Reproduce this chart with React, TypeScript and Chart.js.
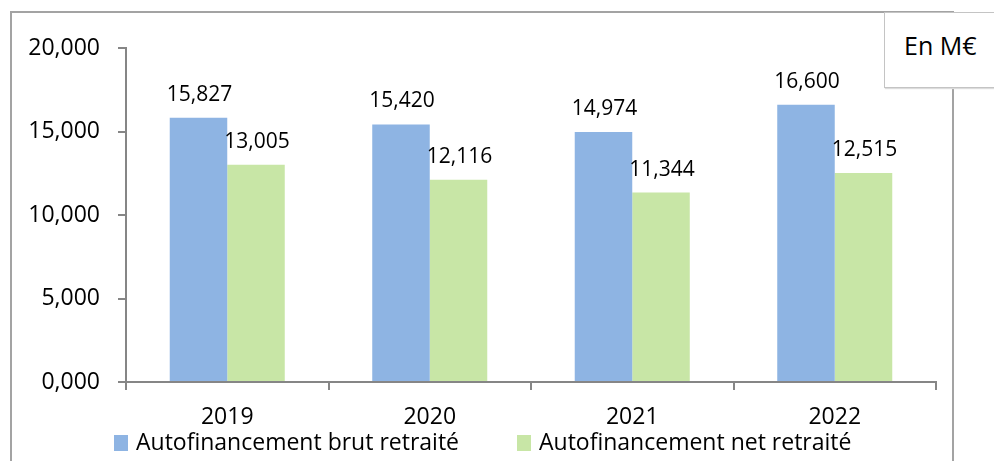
import React, { useEffect, useRef } from "react";
import { Chart, registerables } from "chart.js";

Chart.register(...registerables);

const categories: string[] = ["2019", "2020", "2021", "2022"];
const brutValues: number[] = [15.827, 15.42, 14.974, 16.6];
const netValues: number[] = [13.005, 12.116, 11.344, 12.515];
const seriesLabels: string[] = ["Autofinancement brut retraité", "Autofinancement net retraité"];
const yTicks: number[] = [0, 5, 10, 15, 20];
const unitLabel = "En M€";

const BLUE = "#8EB4E3";
const GREEN = "#C8E6A6";
const AXIS = "#868686";
const FONT = "'Open Sans', Lato, sans-serif";

const fmt = (v: number) => v.toFixed(3).replace(".", ",");

const valueLabelPlugin = {
  id: "valueLabels",
  afterDatasetsDraw(chart: any) {
    const ctx = chart.ctx;
    ctx.save();
    ctx.font = `21px ${FONT}`;
    ctx.fillStyle = "#000";
    ctx.textAlign = "center";
    ctx.textBaseline = "alphabetic";
    chart.data.datasets.forEach((ds: any, di: number) => {
      const meta = chart.getDatasetMeta(di);
      meta.data.forEach((el: any, i: number) => {
        ctx.fillText(fmt(ds.data[i]), el.x + 1, el.y - 17);
      });
    });
    ctx.restore();
  },
};

const legendPlugin = {
  id: "customLegend",
  afterDraw(chart: any) {
    const ctx = chart.ctx;
    ctx.save();
    ctx.font = `23px ${FONT}`;
    ctx.textBaseline = "middle";
    ctx.textAlign = "left";
    let x = 114;
    const yMid = 443;
    chart.data.datasets.forEach((ds: any) => {
      ctx.fillStyle = ds.backgroundColor;
      ctx.fillRect(x, yMid - 8, 14, 16);
      ctx.fillStyle = "#000";
      const tx = x + 22;
      ctx.fillText(ds.label, tx, yMid);
      x = tx + ctx.measureText(ds.label).width + 58;
    });
    ctx.restore();
  },
};

export default function App() {
  const ref = useRef<HTMLCanvasElement | null>(null);

  useEffect(() => {
    if (!ref.current) return;
    const chart = new Chart(ref.current, {
      type: "bar",
      data: {
        labels: categories,
        datasets: [
          { label: seriesLabels[0], data: brutValues, backgroundColor: BLUE, borderWidth: 0 },
          { label: seriesLabels[1], data: netValues, backgroundColor: GREEN, borderWidth: 0 },
        ],
      },
      options: {
        responsive: false,
        animation: false,
        devicePixelRatio: 1,
        layout: { padding: { top: 48, right: 58, left: 0, bottom: 0 } },
        datasets: { bar: { categoryPercentage: 0.568, barPercentage: 1 } },
        plugins: {
          legend: { display: false },
          tooltip: { enabled: false },
          title: { display: false },
        },
        scales: {
          x: {
            grid: { display: true, drawOnChartArea: false, drawTicks: true, tickLength: 8, color: AXIS, lineWidth: 2, offset: true },
            border: { display: true, color: AXIS, width: 2 },
            ticks: { color: "#000", font: { family: FONT, size: 23 }, padding: 14, maxRotation: 0 },
            afterFit: (s: any) => { s.height = 79; },
          },
          y: {
            min: 0,
            max: 20,
            afterBuildTicks: (s: any) => { s.ticks = yTicks.map((v) => ({ value: v })); },
            grid: { display: true, drawOnChartArea: false, drawTicks: true, tickLength: 8, color: AXIS, lineWidth: 2 },
            border: { display: true, color: AXIS, width: 2 },
            ticks: { color: "#000", font: { family: FONT, size: 23 }, padding: 18, callback: (v: any) => fmt(Number(v)) },
            afterFit: (s: any) => { s.width = 126; },
          },
        },
      },
      plugins: [valueLabelPlugin, legendPlugin],
    });
    return () => chart.destroy();
  }, []);

  return (
    <div style={{ position: "absolute", left: 0, top: 0, width: 994, height: 461, overflow: "hidden", background: "#fff" }}>
      <div style={{ position: "absolute", left: 10, top: 11, width: 944, height: 520, border: "2px solid #a3a3a3", boxSizing: "border-box" }} />
      <div
        style={{
          position: "absolute",
          left: 884,
          top: 12,
          width: 140,
          height: 76,
          boxSizing: "border-box",
          background: "#fff",
          border: "1.5px solid #c4c4c4",
          boxShadow: "1px 1px 1px #dcdcdc",
          fontFamily: FONT,
          fontSize: 25,
          color: "#000",
          paddingLeft: 19,
          paddingTop: 17,
          lineHeight: "30px",
        }}
      >
        {unitLabel}
      </div>
      <canvas ref={ref} width={994} height={461} style={{ position: "absolute", left: 0, top: 0, width: 994, height: 461 }} />
    </div>
  );
}
